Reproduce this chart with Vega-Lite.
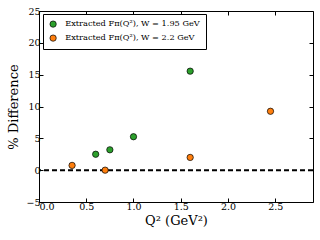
{
  "$schema": "https://vega.github.io/schema/vega-lite/v6.json",
  "autosize": "none",
  "width": 274,
  "height": 191,
  "padding": {"left": 39, "top": 11, "right": 7, "bottom": 38},
  "background": "white",
  "config": {
    "view": {"stroke": "black", "strokeWidth": 1},
    "font": "DejaVu Serif",
    "axis": {"grid": false, "domain": false, "tickColor": "black", "tickSize": -4, "labelColor": "black", "labelFont": "DejaVu Serif", "titleFont": "DejaVu Serif", "titleColor": "black", "titleFontWeight": "normal", "labelFontSize": 9.5}
  },
  "data": {"values": [
    {"series": "Extracted Fπ(Q²), W = 1.95 GeV", "Q2": 0.6, "diff": 2.5},
    {"series": "Extracted Fπ(Q²), W = 1.95 GeV", "Q2": 0.75, "diff": 3.2},
    {"series": "Extracted Fπ(Q²), W = 1.95 GeV", "Q2": 1.0, "diff": 5.25},
    {"series": "Extracted Fπ(Q²), W = 1.95 GeV", "Q2": 1.6, "diff": 15.55},
    {"series": "Extracted Fπ(Q²), W = 2.2 GeV", "Q2": 0.35, "diff": 0.75},
    {"series": "Extracted Fπ(Q²), W = 2.2 GeV", "Q2": 0.7, "diff": 0.0},
    {"series": "Extracted Fπ(Q²), W = 2.2 GeV", "Q2": 1.6, "diff": 2.0},
    {"series": "Extracted Fπ(Q²), W = 2.2 GeV", "Q2": 2.45, "diff": 9.25}
  ]},
  "resolve": {"axis": {"x": "independent", "y": "independent"}},
  "layer": [
    {
      "data": {"values": [{"y": 0}]},
      "mark": {"type": "rule", "color": "black", "strokeWidth": 2, "strokeDash": [5, 3]},
      "encoding": {
        "y": {"field": "y", "type": "quantitative", "scale": {"domain": [-5, 25], "nice": false},
              "axis": {"orient": "right", "labels": false, "title": null, "values": [-5, 0, 5, 10, 15, 20, 25]}}
      }
    },
    {
      "data": {"values": [{"x": 0}]},
      "mark": {"type": "rule", "opacity": 0},
      "encoding": {
        "x": {"field": "x", "type": "quantitative", "scale": {"domain": [0, 2.9], "nice": false},
              "axis": {"orient": "top", "labels": false, "title": null, "values": [0, 0.5, 1, 1.5, 2, 2.5]}}
      }
    },
    {
      "mark": {"type": "circle", "size": 40, "stroke": "black", "strokeWidth": 0.7, "opacity": 1},
      "encoding": {
        "x": {"field": "Q2", "type": "quantitative", "scale": {"domain": [0, 2.9], "nice": false},
              "axis": {"orient": "bottom", "title": "Q² (GeV²)", "titleFontSize": 13, "titlePadding": 4, "values": [0, 0.5, 1, 1.5, 2, 2.5], "format": ".1f", "labelPadding": 3}},
        "y": {"field": "diff", "type": "quantitative", "scale": {"domain": [-5, 25], "nice": false},
              "axis": {"orient": "left", "title": "% Difference", "titleFontSize": 13, "titlePadding": 5, "values": [-5, 0, 5, 10, 15, 20, 25], "labelPadding": 3}},
        "color": {"field": "series", "type": "nominal",
                  "scale": {"domain": ["Extracted Fπ(Q²), W = 1.95 GeV", "Extracted Fπ(Q²), W = 2.2 GeV"], "range": ["#2ca02c", "#ff7f0e"]},
                  "legend": {"title": null, "orient": "none", "legendX": 4, "legendY": 3, "strokeColor": "black", "fillColor": "white", "padding": 6, "labelFontSize": 8.2, "labelFont": "DejaVu Serif", "labelColor": "black", "symbolSize": 40, "symbolStrokeColor": "black", "symbolStrokeWidth": 0.7, "rowPadding": 4, "symbolOpacity": 1, "labelOffset": 8}}
      }
    }
  ]
}
